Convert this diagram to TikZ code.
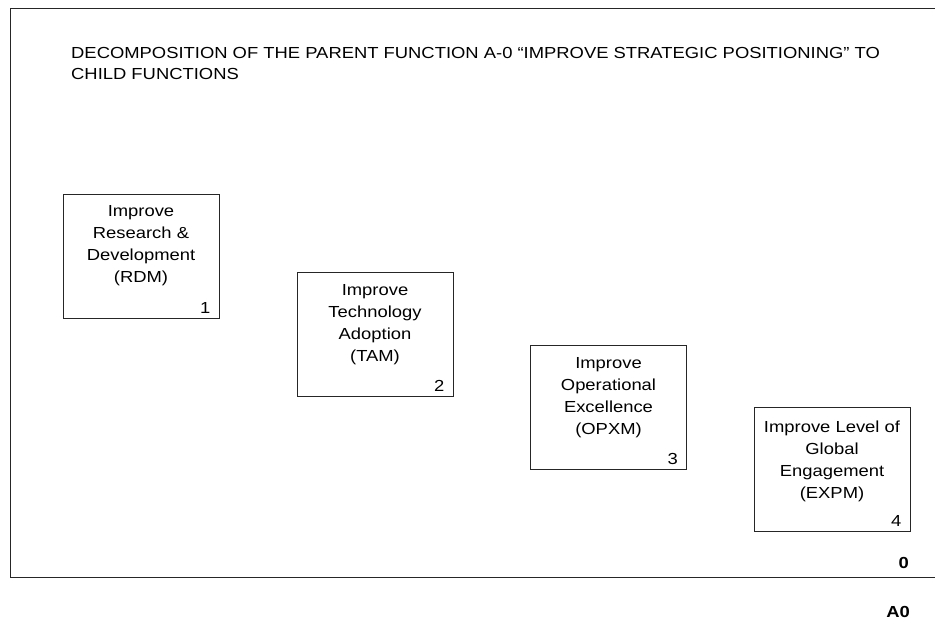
\documentclass[tikz,border=0pt]{standalone}
\usepackage{fontspec}
\setmainfont[FakeStretch=1.15]{Liberation Sans}
\begin{document}
\begin{tikzpicture}[x=1pt,y=-1pt,
  fnbox/.style={draw=black!85, line width=0.9pt, minimum width=156pt, minimum height=124pt, inner sep=0pt},
  fntext/.style={anchor=north, align=center, font=\fontsize{16}{22}\selectfont, inner sep=0pt},
  fnnum/.style={anchor=south east, font=\fontsize{16}{18}\selectfont, inner sep=0pt},
  tag/.style={anchor=base east, inner sep=0pt, font=\bfseries\fontsize{16}{18}\selectfont},
  frameline/.style={line width=1pt, draw=black!85}]
\useasboundingbox (0,0) rectangle (935,621);
\draw[frameline] (935,8) -- (10,8) -- (10,577) -- (935,577);
\node[anchor=base west, align=left, inner sep=0pt, font=\fontsize{16}{21}\selectfont] (title) at (71,79)
  {DECOMPOSITION OF THE PARENT FUNCTION A-0 “IMPROVE STRATEGIC POSITIONING” TO\\CHILD FUNCTIONS};
\node[fnbox] (b1) at (141,256) {};
\node[fnbox] (b2) at (375,334.5) {};
\node[fnbox] (b3) at (608.5,407) {};
\node[fnbox] (b4) at (832,469.5) {};
\node[fntext] (t1) at ([yshift=-12]b1.north) {Improve\\Research \&\\Development\\(RDM)};
\node[fntext] (t2) at ([yshift=-12]b2.north) {Improve\\Technology\\Adoption\\(TAM)};
\node[fntext] (t3) at ([yshift=-12.5]b3.north) {Improve\\Operational\\Excellence\\(OPXM)};
\node[fntext] (t4) at ([yshift=-13.5]b4.north) {Improve Level of\\Global\\Engagement\\(EXPM)};
\node[fnnum] (n1) at ([xshift=-9,yshift=5]b1.south east) {1};
\node[fnnum] (n2) at ([xshift=-9,yshift=5]b2.south east) {2};
\node[fnnum] (n3) at ([xshift=-9,yshift=5]b3.south east) {3};
\node[fnnum] (n4) at ([xshift=-9,yshift=5]b4.south east) {4};
\node[tag] (zero) at (909,568) {0};
\node[tag] (a0) at (910,617) {A0};
\end{tikzpicture}
\end{document}
